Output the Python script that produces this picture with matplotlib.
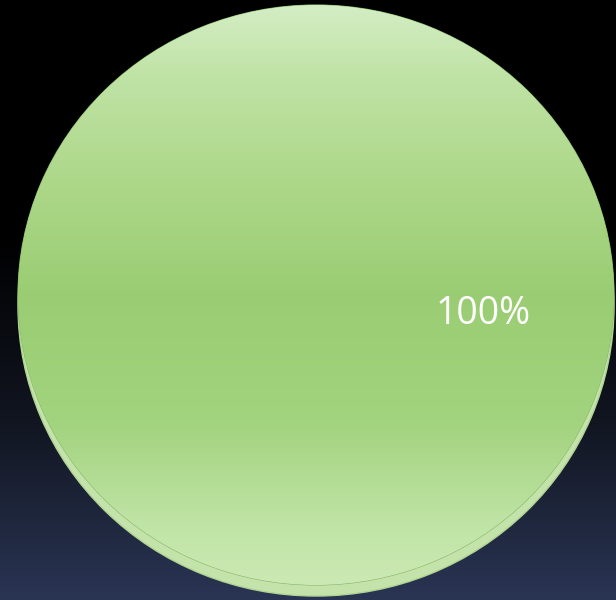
import numpy as np
import matplotlib.pyplot as plt
from matplotlib.colors import LinearSegmentedColormap

# single-slice pie
sizes = [100]
slice_names = ['Series 1']

W, H = 616, 600
fig = plt.figure(figsize=(W / 100, H / 100), dpi=100)

# dark background gradient (black top -> navy bottom)
bg = fig.add_axes([0, 0, 1, 1])
bg_cmap = LinearSegmentedColormap.from_list(
    'bg', [(0.0, '#000000'), (0.4, '#010102'), (0.7, '#111520'), (1.0, '#2a3554')])
grad = np.linspace(0, 1, 256).reshape(-1, 1)
bg.imshow(grad, aspect='auto', cmap=bg_cmap, extent=[0, 1, 1, 0])
bg.set_axis_off()

# pie axes (slightly elliptical), extra room below for the rim
cx, cy, rx, ry = 316, 295, 298, 290
drop = 0.038
ax = fig.add_axes([(cx - rx) / W, 1 - (cy + ry * (1 + drop)) / H,
                   2 * rx / W, ry * (2 + drop) / H])
ax.patch.set_alpha(0)

# bottom rim / shadow layer
shadow, _ = ax.pie(sizes, radius=1, startangle=180, center=(0, -drop),
                   colors=['#c4e3aa'], wedgeprops=dict(edgecolor='#b0d494', linewidth=1))

wedges, texts, autotexts = ax.pie(
    sizes, radius=1, startangle=180, colors=['#9fd07a'],
    autopct='%1.0f%%', pctdistance=0.56,
    wedgeprops=dict(edgecolor='#86b866', linewidth=0.8),
    textprops=dict(color='white', fontsize=27, family='Open Sans'))
for t in autotexts:
    t.set_y(t.get_position()[1] - 0.065)

# glossy vertical gradient clipped to the slice
pie_cmap = LinearSegmentedColormap.from_list(
    'pie', [(0.0, '#d4edc4'), (0.12, '#c0e3a6'), (0.3, '#add889'),
            (0.5, '#9acd73'), (0.72, '#a2d37e'), (0.9, '#c0e4a6'), (1.0, '#cbe9b4')])
g = np.linspace(0, 1, 256).reshape(-1, 1)
im = ax.imshow(g, cmap=pie_cmap, extent=[-1, 1, -1, 1], aspect='auto', zorder=1.5)
im.set_clip_path(wedges[0])
for t in autotexts:
    t.set_zorder(3)

ax.set_xlim(-1, 1)
ax.set_ylim(-1 - drop, 1)
ax.set_aspect('auto')
ax.set_axis_off()

plt.savefig('out.png', dpi=100)
